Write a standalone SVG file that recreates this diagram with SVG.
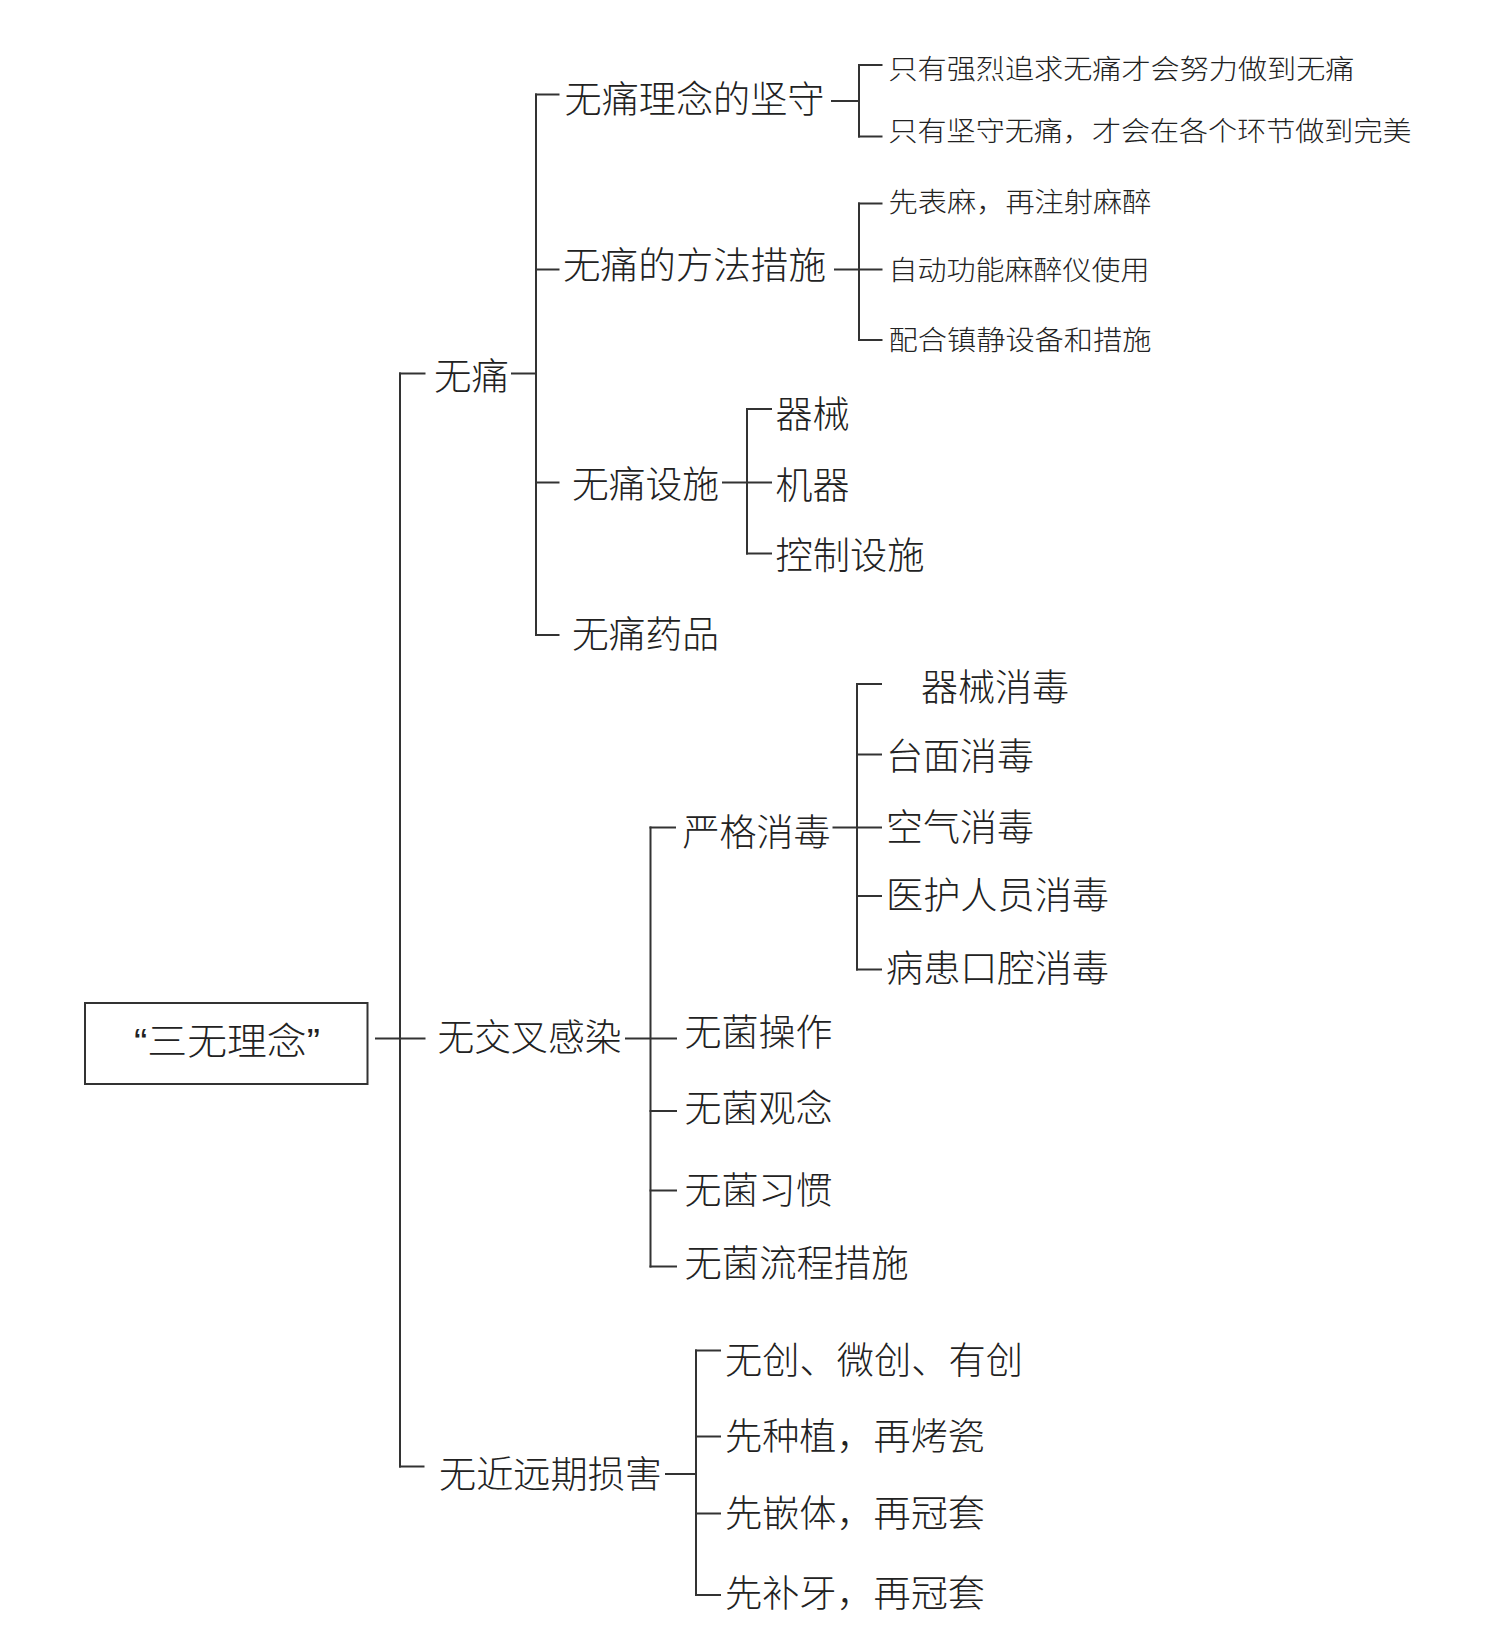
<svg xmlns="http://www.w3.org/2000/svg" width="1490" height="1625" viewBox="0 0 1490 1625">
<style>
.bg{fill:#fff}
.ln{stroke:#333;stroke-width:2;fill:none;stroke-linecap:square}
.box{stroke:#333;stroke-width:2;fill:#fff}
.t{font-family:"Noto Sans CJK SC","Noto Sans",sans-serif;font-weight:300;fill:#222;dominant-baseline:central}
.q{font-family:"Liberation Sans","Noto Sans CJK SC",sans-serif}
.L{font-size:37px}
.S{font-size:27px}
</style>
<rect class="bg" x="0" y="0" width="1490" height="1625"/>
<g id="connectors">
  <line class="ln" x1="376" y1="1038.5" x2="424.5" y2="1038.5"/>
  <line class="ln" x1="400" y1="373.5" x2="400" y2="1466.5"/>
  <line class="ln" x1="400" y1="373.5" x2="424.5" y2="373.5"/>
  <line class="ln" x1="400" y1="1466.5" x2="423.5" y2="1466.5"/>
  <line class="ln" x1="512" y1="373.5" x2="536" y2="373.5"/>
  <line class="ln" x1="536" y1="94.5" x2="536" y2="635"/>
  <line class="ln" x1="536" y1="94.5" x2="558.5" y2="94.5"/>
  <line class="ln" x1="536" y1="269.5" x2="558.5" y2="269.5"/>
  <line class="ln" x1="536" y1="482.5" x2="558.5" y2="482.5"/>
  <line class="ln" x1="536" y1="635" x2="558.5" y2="635"/>
  <line class="ln" x1="832" y1="101" x2="859" y2="101"/>
  <line class="ln" x1="859" y1="65" x2="859" y2="136.5"/>
  <line class="ln" x1="859" y1="65" x2="881.5" y2="65"/>
  <line class="ln" x1="859" y1="136.5" x2="881.5" y2="136.5"/>
  <line class="ln" x1="835" y1="269.5" x2="881.5" y2="269.5"/>
  <line class="ln" x1="859" y1="203.5" x2="859" y2="340"/>
  <line class="ln" x1="859" y1="203.5" x2="881.5" y2="203.5"/>
  <line class="ln" x1="859" y1="340" x2="881.5" y2="340"/>
  <line class="ln" x1="723" y1="482.5" x2="771" y2="482.5"/>
  <line class="ln" x1="747" y1="409" x2="747" y2="553.5"/>
  <line class="ln" x1="747" y1="409" x2="771" y2="409"/>
  <line class="ln" x1="747" y1="553.5" x2="771" y2="553.5"/>
  <line class="ln" x1="626" y1="1038.5" x2="676" y2="1038.5"/>
  <line class="ln" x1="650.5" y1="827.5" x2="650.5" y2="1266.5"/>
  <line class="ln" x1="650.5" y1="827.5" x2="675" y2="827.5"/>
  <line class="ln" x1="650.5" y1="1111" x2="676" y2="1111"/>
  <line class="ln" x1="650.5" y1="1190.5" x2="676" y2="1190.5"/>
  <line class="ln" x1="650.5" y1="1266.5" x2="676" y2="1266.5"/>
  <line class="ln" x1="833.5" y1="827.5" x2="881" y2="827.5"/>
  <line class="ln" x1="857" y1="684" x2="857" y2="969.5"/>
  <line class="ln" x1="857" y1="684" x2="881" y2="684"/>
  <line class="ln" x1="857" y1="754.5" x2="881" y2="754.5"/>
  <line class="ln" x1="857" y1="896" x2="881" y2="896"/>
  <line class="ln" x1="857" y1="969.5" x2="881" y2="969.5"/>
  <line class="ln" x1="666" y1="1474" x2="696" y2="1474"/>
  <line class="ln" x1="696" y1="1350.5" x2="696" y2="1595"/>
  <line class="ln" x1="696" y1="1350.5" x2="720" y2="1350.5"/>
  <line class="ln" x1="696" y1="1436.5" x2="720" y2="1436.5"/>
  <line class="ln" x1="696" y1="1513.5" x2="720" y2="1513.5"/>
  <line class="ln" x1="696" y1="1595" x2="720" y2="1595"/>
</g>
<g id="root">
  <rect class="box" x="85" y="1003" width="282.5" height="81"/>
  <text class="t q L" x="134" y="1042.5" textLength="186" lengthAdjust="spacingAndGlyphs">“三无理念”</text>
</g>
<g id="n-wutong"><text class="t L" x="434" y="374" textLength="75" lengthAdjust="spacingAndGlyphs">无痛</text></g>
<g id="n-jiaocha"><text class="t L" x="437.5" y="1035" textLength="184" lengthAdjust="spacingAndGlyphs">无交叉感染</text></g>
<g id="n-sunhai"><text class="t L" x="439" y="1472" textLength="223" lengthAdjust="spacingAndGlyphs">无近远期损害</text></g>
<g id="n-linian"><text class="t L" x="564.5" y="97" textLength="260" lengthAdjust="spacingAndGlyphs">无痛理念的坚守</text></g>
<g id="n-fangfa"><text class="t L" x="563" y="263" textLength="263" lengthAdjust="spacingAndGlyphs">无痛的方法措施</text></g>
<g id="n-sheshi"><text class="t L" x="572" y="482" textLength="147" lengthAdjust="spacingAndGlyphs">无痛设施</text></g>
<g id="n-yaopin"><text class="t L" x="572" y="632" textLength="147" lengthAdjust="spacingAndGlyphs">无痛药品</text></g>
<g id="n-qixie"><text class="t L" x="775.5" y="412" textLength="74" lengthAdjust="spacingAndGlyphs">器械</text></g>
<g id="n-jiqi"><text class="t L" x="775.5" y="483" textLength="74" lengthAdjust="spacingAndGlyphs">机器</text></g>
<g id="n-kongzhi"><text class="t L" x="775.5" y="553" textLength="149" lengthAdjust="spacingAndGlyphs">控制设施</text></g>
<g id="n-s1"><text class="t S" x="888.5" y="67" textLength="466" lengthAdjust="spacingAndGlyphs">只有强烈追求无痛才会努力做到无痛</text></g>
<g id="n-s2"><text class="t S" x="888.5" y="129" textLength="523" lengthAdjust="spacingAndGlyphs">只有坚守无痛，才会在各个环节做到完美</text></g>
<g id="n-s3"><text class="t S" x="888.5" y="200" textLength="263" lengthAdjust="spacingAndGlyphs">先表麻，再注射麻醉</text></g>
<g id="n-s4"><text class="t S" x="888.5" y="268" textLength="261" lengthAdjust="spacingAndGlyphs">自动功能麻醉仪使用</text></g>
<g id="n-s5"><text class="t S" x="888.5" y="338" textLength="263" lengthAdjust="spacingAndGlyphs">配合镇静设备和措施</text></g>
<g id="n-yange"><text class="t L" x="682.5" y="829.5" textLength="148" lengthAdjust="spacingAndGlyphs">严格消毒</text></g>
<g id="n-d1"><text class="t L" x="921" y="685" textLength="148" lengthAdjust="spacingAndGlyphs">器械消毒</text></g>
<g id="n-d2"><text class="t L" x="886" y="753.5" textLength="148" lengthAdjust="spacingAndGlyphs">台面消毒</text></g>
<g id="n-d3"><text class="t L" x="886" y="824.5" textLength="148" lengthAdjust="spacingAndGlyphs">空气消毒</text></g>
<g id="n-d4"><text class="t L" x="886" y="893" textLength="223" lengthAdjust="spacingAndGlyphs">医护人员消毒</text></g>
<g id="n-d5"><text class="t L" x="886" y="966" textLength="223" lengthAdjust="spacingAndGlyphs">病患口腔消毒</text></g>
<g id="n-c1"><text class="t L" x="684.5" y="1029.5" textLength="148" lengthAdjust="spacingAndGlyphs">无菌操作</text></g>
<g id="n-c2"><text class="t L" x="684.5" y="1105.5" textLength="148" lengthAdjust="spacingAndGlyphs">无菌观念</text></g>
<g id="n-c3"><text class="t L" x="684.5" y="1187.5" textLength="148" lengthAdjust="spacingAndGlyphs">无菌习惯</text></g>
<g id="n-c4"><text class="t L" x="684.5" y="1261" textLength="224" lengthAdjust="spacingAndGlyphs">无菌流程措施</text></g>
<g id="n-h1"><text class="t L" x="725" y="1358" textLength="298" lengthAdjust="spacingAndGlyphs">无创、微创、有创</text></g>
<g id="n-h2"><text class="t L" x="725" y="1433.5" textLength="260" lengthAdjust="spacingAndGlyphs">先种植，再烤瓷</text></g>
<g id="n-h3"><text class="t L" x="725" y="1511" textLength="260" lengthAdjust="spacingAndGlyphs">先嵌体，再冠套</text></g>
<g id="n-h4"><text class="t L" x="725" y="1591" textLength="260" lengthAdjust="spacingAndGlyphs">先补牙，再冠套</text></g>
</svg>
